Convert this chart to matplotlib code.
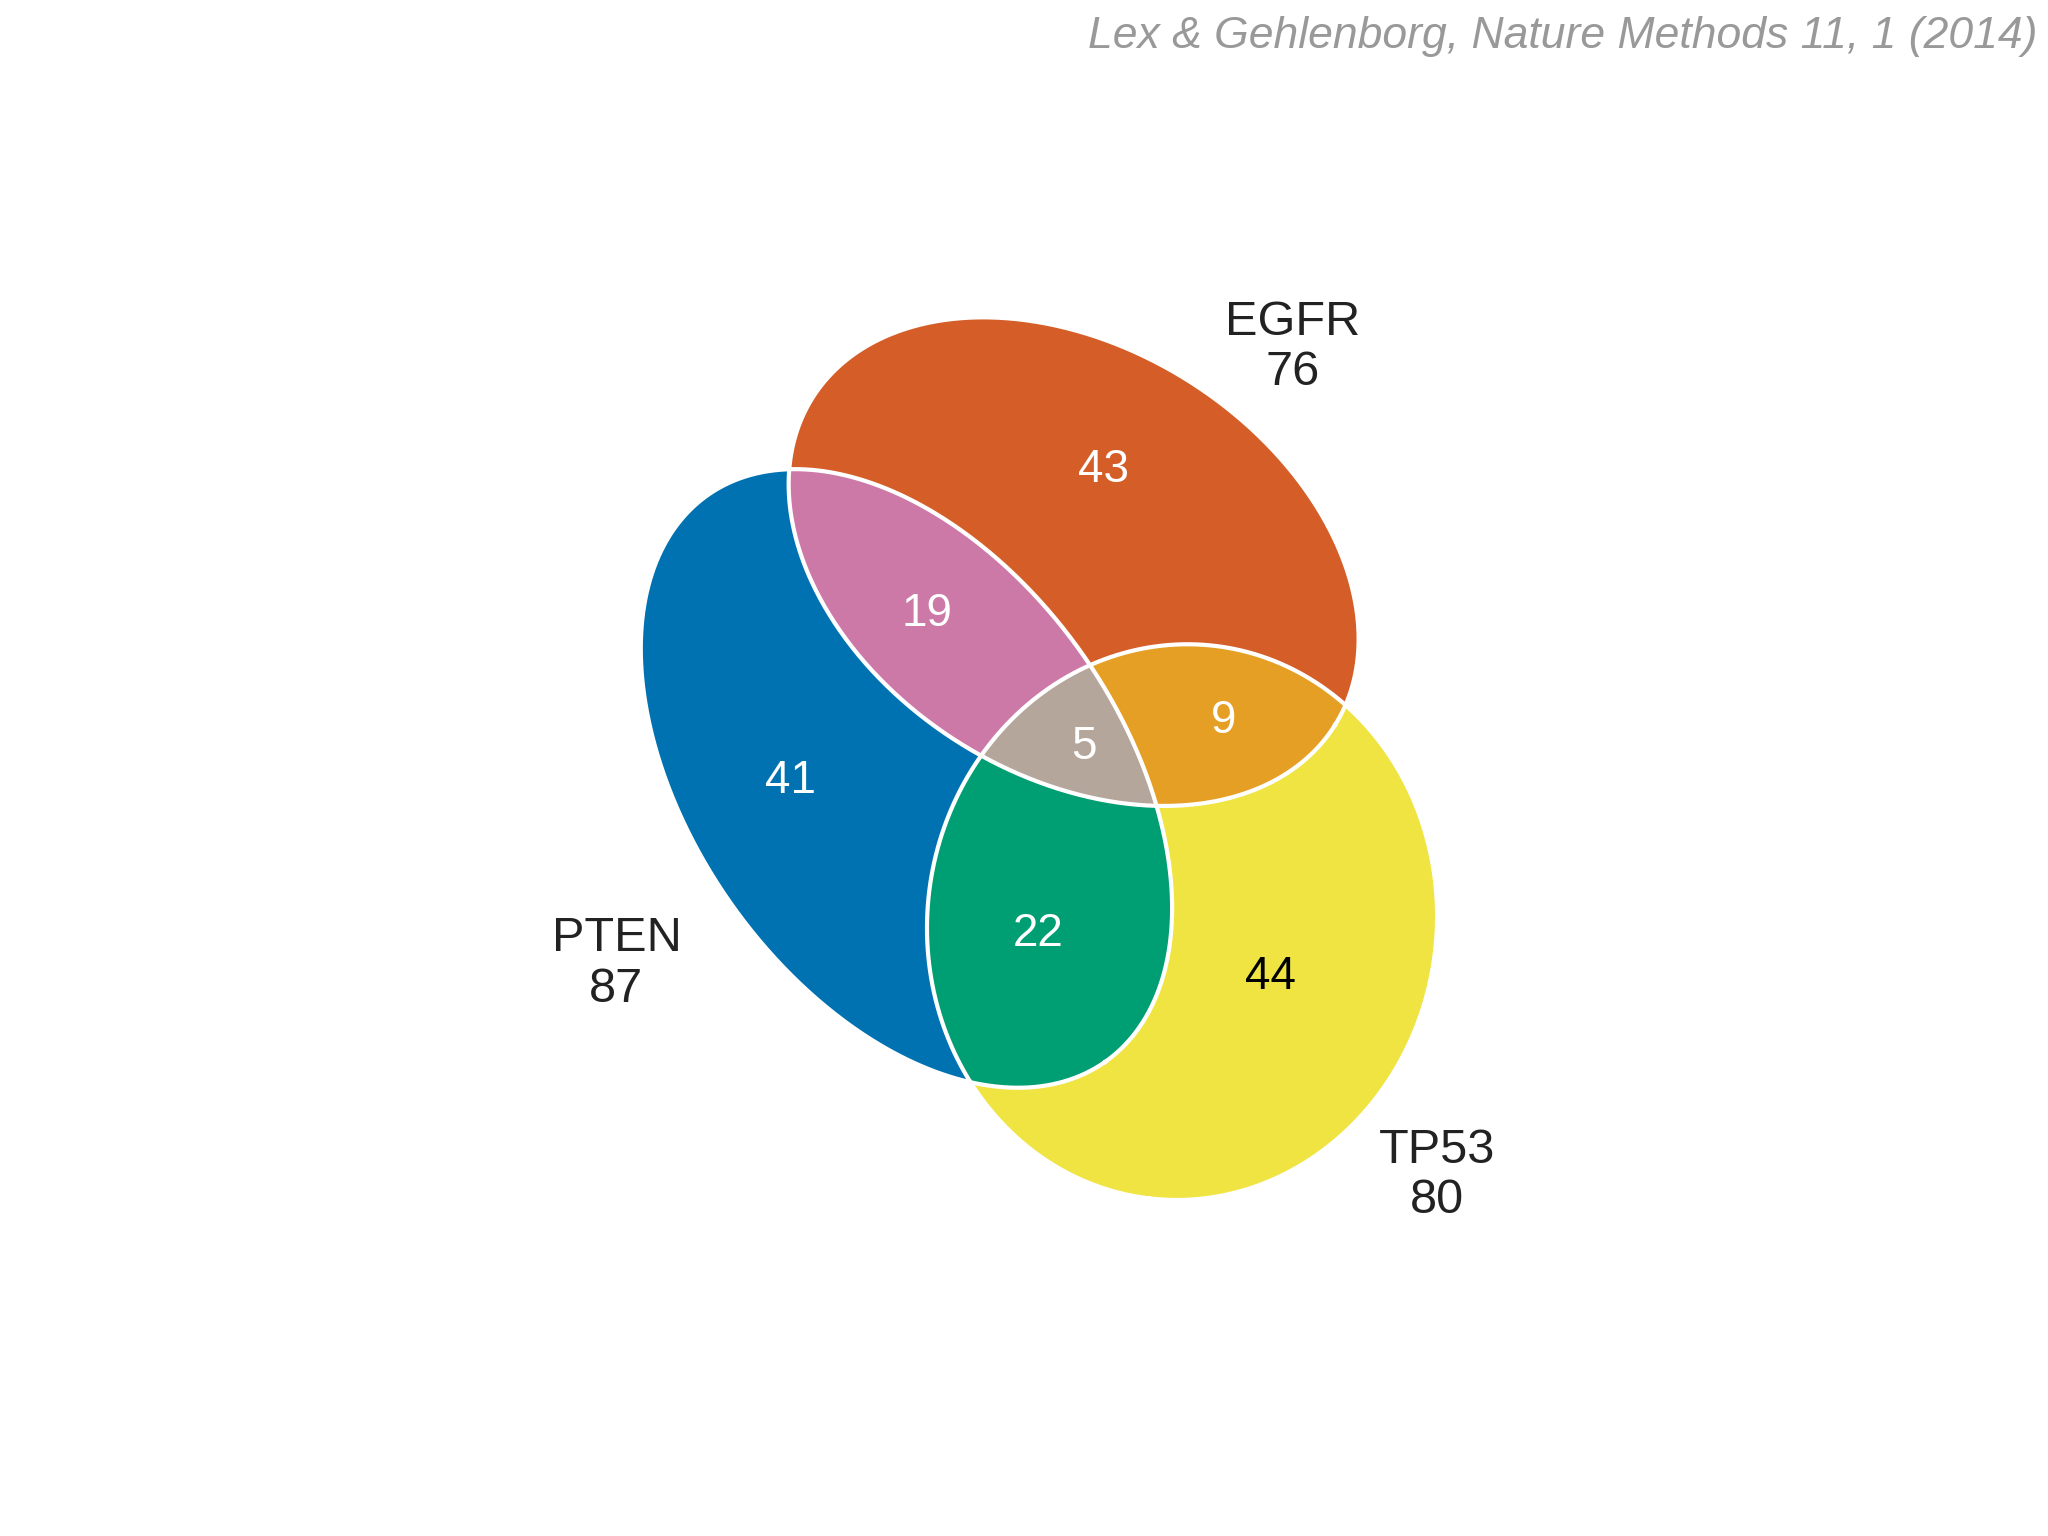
import numpy as np
import matplotlib
matplotlib.use("Agg")
import matplotlib.pyplot as plt

# data
set_names = ["PTEN", "EGFR", "TP53"]
set_totals = [87, 76, 80]
region_keys = ["P", "E", "T", "PE", "PT", "ET", "PET"]
region_counts = [41, 43, 44, 19, 22, 9, 5]

# geometry (reference pixel coords, y down): cx, cy, a, b, angle(deg)
ellipses = {"P": (694, 596, 265, 165, 55),
            "E": (822, 430, 236, 164, 32),
            "T": (905, 706, 213, 195, 97)}
colors = {"P": "#0072B2", "E": "#D55E28", "T": "#F0E442",
          "PE": "#CC79A7", "PT": "#009E73", "ET": "#E69F25", "PET": "#B5A69C"}
label_pos = {"P": (605, 598), "E": (845, 360), "T": (973, 748), "PE": (710, 470),
             "PT": (795, 715), "ET": (937, 552), "PET": (830, 572)}
name_pos = {"PTEN": (472, 738), "EGFR": (990, 266), "TP53": (1100, 900)}

def ellipse_pts(cx, cy, a, b, ang, n=720):
    t = np.linspace(0, 2*np.pi, n, endpoint=False)
    p = np.radians(ang)
    x = cx + a*np.cos(t)*np.cos(p) - b*np.sin(t)*np.sin(p)
    y = cy + a*np.cos(t)*np.sin(p) + b*np.sin(t)*np.cos(p)
    return np.column_stack([x, y])

def clip(subject, clipper):
    # Sutherland-Hodgman, convex clipper
    def orient(poly):
        x, y = poly[:, 0], poly[:, 1]
        return np.sum(x*np.roll(y, -1) - np.roll(x, -1)*y)
    s = orient(clipper)
    out = list(map(tuple, subject))
    cl = list(map(tuple, clipper))
    for i in range(len(cl)):
        a = cl[i]; b = cl[(i+1) % len(cl)]
        def inside(p):
            return s*((b[0]-a[0])*(p[1]-a[1]) - (b[1]-a[1])*(p[0]-a[0])) >= 0
        def inter(p, q):
            x1, y1 = p; x2, y2 = q; x3, y3 = a; x4, y4 = b
            d = (x1-x2)*(y3-y4) - (y1-y2)*(x3-x4)
            t = ((x1-x3)*(y3-y4) - (y1-y3)*(x3-x4))/d
            return (x1+t*(x2-x1), y1+t*(y2-y1))
        inp = out; out = []
        if not inp:
            break
        prev = inp[-1]
        for cur in inp:
            if inside(cur):
                if not inside(prev):
                    out.append(inter(prev, cur))
                out.append(cur)
            elif inside(prev):
                out.append(inter(prev, cur))
            prev = cur
    return np.array(out)

fig = plt.figure(figsize=(20.48, 15.36), dpi=100)
ax = fig.add_axes([0, 0, 1, 1])
ax.set_xlim(0, 1568); ax.set_ylim(1176, 0); ax.axis("off")

polys = {k: ellipse_pts(*v) for k, v in ellipses.items()}
for k in ["P", "E", "T"]:
    ax.fill(polys[k][:, 0], polys[k][:, 1], color=colors[k], lw=0)
for k in ["PE", "PT", "ET"]:
    pg = clip(polys[k[0]], polys[k[1]])
    ax.fill(pg[:, 0], pg[:, 1], color=colors[k], lw=0)
pg = clip(clip(polys["P"], polys["E"]), polys["T"])
ax.fill(pg[:, 0], pg[:, 1], color=colors["PET"], lw=0)
for k in ["P", "E", "T"]:
    p = np.vstack([polys[k], polys[k][:1]])
    ax.plot(p[:, 0], p[:, 1], color="white", lw=3)

fam = ["Liberation Sans", "DejaVu Sans"]
for k, c in zip(region_keys, region_counts):
    x, y = label_pos[k]
    ax.text(x, y, str(c), ha="center", va="center", fontsize=33, family=fam,
            color="black" if k == "T" else "white")
for n, t in zip(set_names, set_totals):
    x, y = name_pos[n]
    ax.text(x, y, f"{n}\n{t}", ha="center", va="center", fontsize=35, family=fam,
            color="#222222", linespacing=1.15)
ax.text(1560, 28, "Lex & Gehlenborg, Nature Methods 11, 1 (2014)", ha="right", va="center",
        fontsize=32, style="italic", color="#999999", family=fam)
fig.savefig("out.png", dpi=100)
